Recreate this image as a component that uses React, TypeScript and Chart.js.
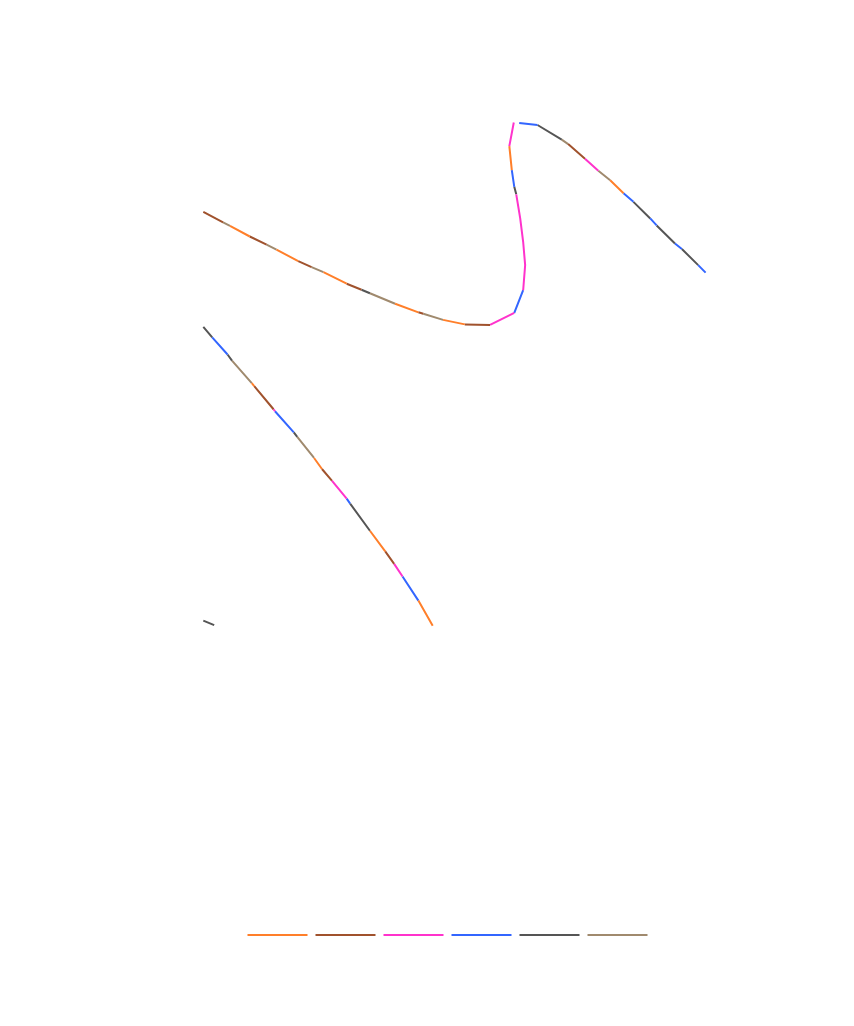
import { useEffect, useRef } from "react";
import { Chart, registerables } from "chart.js";

Chart.register(...registerables);

// Six series (legend order): orange, brown, magenta, blue, dark grey, tan
const seriesLabels = ["", "", "", "", "", ""];
const seriesColors = ["#ff7f2a", "#a0522d", "#ff33cc", "#3366ff", "#555555", "#a08a6e"];

// Curve A (vertices); curveASeries[i] = series drawing the piece from vertex i to i+1 (-1 = gap)
const curveAX = [
  0.0, 0.4, 0.54, 0.94, 1.28, 1.48, 1.92, 2.19, 2.43, 2.9, 3.2, 3.37, 3.88, 4.35, 4.45, 4.85, 5.29,
  5.8, 6.29, 6.47, 6.51, 6.47, 6.41, 6.33, 6.29, 6.24, 6.19, 6.28,
  6.39, 6.76, 7.25, 7.38, 7.72, 7.99, 8.23, 8.5, 8.7, 9.04, 9.17, 9.54, 9.68, 10.01, 10.16,
];
const curveAY = [
  8.24, 8.03, 7.96, 7.75, 7.59, 7.49, 7.26, 7.14, 7.04, 6.81, 6.69, 6.62, 6.41, 6.24, 6.21, 6.09, 6.0,
  5.99, 6.23, 6.68, 7.18, 7.64, 8.11, 8.59, 8.74, 9.07, 9.55, 10.02,
  10.01, 9.97, 9.68, 9.59, 9.3, 9.06, 8.87, 8.61, 8.44, 8.11, 7.97, 7.61, 7.5, 7.18, 7.03,
];
const curveASeries = [
  1, 5, 0, 1, 5, 0, 1, 5, 0, 1, 4, 5, 0, 1, 5, 0, 1,
  2, 3, 2, 2, 2, 2, 4, 3, 0, 2, -1,
  3, 4, 5, 1, 2, 5, 0, 3, 4, 3, 4, 3, 4, 3,
];

// Curve B
const curveBX = [
  0.0, 0.18, 0.49, 0.58, 0.98, 1.03, 1.42, 1.45, 1.83, 1.9, 2.24, 2.4, 2.6, 2.9, 2.97, 3.37, 3.68,
  3.86, 4.03, 4.35, 4.64,
];
const curveBY = [
  5.95, 5.74, 5.4, 5.28, 4.83, 4.77, 4.31, 4.27, 3.85, 3.76, 3.34, 3.12, 2.89, 2.53, 2.43, 1.89, 1.48,
  1.23, 0.98, 0.5, 0.0,
];
const curveBSeries = [4, 3, 4, 5, 0, 1, 2, 3, 4, 5, 0, 1, 2, 3, 4, 0, 1, 2, 3, 0];

// Curve C
const curveCX = [0.0, 0.22];
const curveCY = [0.1, 0.01];
const curveCSeries = [4];

const curves = [
  { xs: curveAX, ys: curveAY, seg: curveASeries },
  { xs: curveBX, ys: curveBY, seg: curveBSeries },
  { xs: curveCX, ys: curveCY, seg: curveCSeries },
];

function buildSeriesData(k: number) {
  const out: { x: number; y: number | null }[] = [];
  curves.forEach(({ xs, ys, seg }) => {
    seg.forEach((s, i) => {
      if (s !== k) return;
      const last = out[out.length - 1];
      if (!(last && last.x === xs[i] && last.y === ys[i])) {
        if (out.length) out.push({ x: xs[i], y: null });
        out.push({ x: xs[i], y: ys[i] });
      }
      out.push({ x: xs[i + 1], y: ys[i + 1] });
    });
  });
  return out;
}

export default function App() {
  const canvasRef = useRef<HTMLCanvasElement | null>(null);

  useEffect(() => {
    if (!canvasRef.current) return;
    const datasets = seriesColors.map((color, k) => ({
      label: seriesLabels[k],
      data: buildSeriesData(k),
      borderColor: color,
      backgroundColor: color,
      borderWidth: 2,
      pointRadius: 0,
      pointHoverRadius: 0,
      pointStyle: "line" as const,
      fill: false,
      spanGaps: false,
      tension: 0,
    }));
    const chart = new Chart(canvasRef.current, {
      type: "line",
      data: { datasets },
      options: {
        animation: false,
        responsive: true,
        maintainAspectRatio: false,
        events: [],
        layout: { padding: { left: 47, right: 0, top: 0, bottom: 67 }, autoPadding: false },
        scales: {
          x: { type: "linear", min: -3, max: 13, display: false },
          y: { type: "linear", min: -6, max: 12.3, display: false },
        },
        plugins: {
          legend: {
            position: "bottom",
            labels: {
              usePointStyle: true,
              pointStyle: "line",
              pointStyleWidth: 60,
              padding: 2,
              font: { size: 12 },
            },
          },
          tooltip: { enabled: false },
        },
      },
    } as any);
    return () => chart.destroy();
  }, []);

  return (
    <div style={{ position: "relative", width: "100%", height: "1010px" }}>
      <canvas ref={canvasRef} />
    </div>
  );
}
